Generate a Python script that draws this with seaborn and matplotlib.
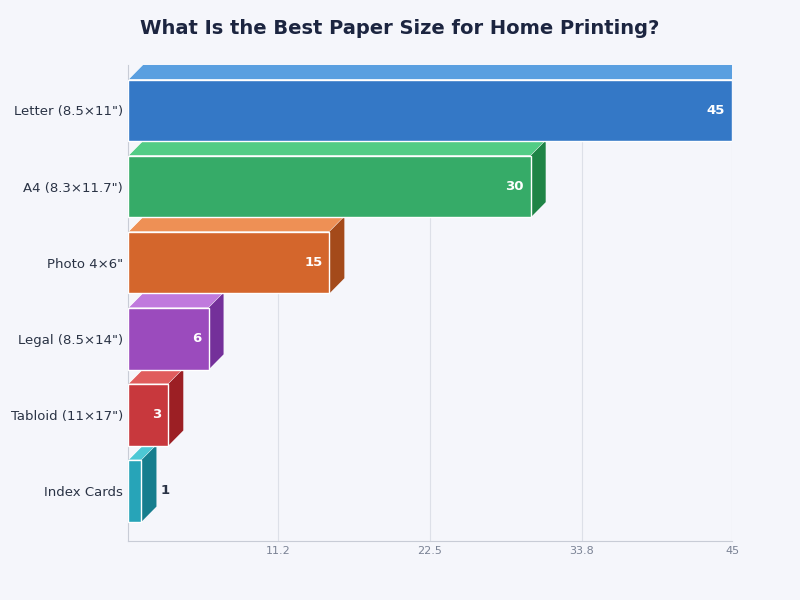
import matplotlib
matplotlib.use("Agg")
import matplotlib.pyplot as plt
from matplotlib.patches import Polygon
import seaborn as sns
import pandas as pd

categories = ['Letter (8.5×11")', 'A4 (8.3×11.7")', 'Photo 4×6"', 'Legal (8.5×14")', 'Tabloid (11×17")', 'Index Cards']
values = [45, 30, 15, 6, 3, 1]
front = ['#3478c6', '#36ab68', '#d4662c', '#9b4bbd', '#c8383d', '#27a4b8']
topc = ['#5a9fe0', '#52cc85', '#ee9055', '#c07add', '#e05c5c', '#4cc8d5']
side = ['#1f5a9e', '#1f8446', '#a44a1a', '#74309a', '#9c1f24', '#167e8e']

sns.set_style("white")
plt.rcParams['font.family'] = ['DejaVu Sans']
bg = '#f5f6fb'
fig = plt.figure(figsize=(8, 6), dpi=100, facecolor=bg)
ax = fig.add_axes([0.16, 0.098, 0.755, 0.794], facecolor=bg)

df = pd.DataFrame({"cat": categories, "val": values})
w = 0.81
sns.barplot(data=df, x="val", y="cat", hue="cat", palette=front, width=w, legend=False, ax=ax, saturation=1, zorder=3)
dx, dy = 1.12, 0.2
for i, v in enumerate(values):
    t = i - w / 2
    b = i + w / 2
    ax.add_patch(Polygon([(0, t), (dx, t - dy), (v + dx, t - dy), (v, t)], closed=True, fc=topc[i], ec='white', lw=0.6, zorder=2))
    ax.add_patch(Polygon([(v, t), (v + dx, t - dy), (v + dx, b - dy), (v, b)], closed=True, fc=side[i], ec='none', zorder=2))
    if v >= 3:
        ax.text(v - 0.5, i, str(v), ha='right', va='center', color='white', fontsize=9.5, fontweight='bold', zorder=4)
    else:
        ax.text(v + dx + 0.3, i, str(v), ha='left', va='center', color='#2a3345', fontsize=9.5, fontweight='bold', zorder=4)

ax.set_xlim(0, 45)
ax.set_ylim(5.66, -0.6)
ax.set_xticks([11.2, 22.5, 33.8, 45])
ax.set_xticklabels(['11.2', '22.5', '33.8', '45'], fontsize=8, color='#7a8294')
ax.tick_params(axis='y', labelsize=9.5, labelcolor='#2a3345', length=0)
ax.tick_params(axis='x', length=0)
ax.set_xlabel('')
ax.set_ylabel('')
ax.grid(axis='x', color='#dde0e8', lw=0.8, zorder=0)
for s in ['top', 'right']:
    ax.spines[s].set_visible(False)
for s in ['left', 'bottom']:
    ax.spines[s].set_color('#c8ccd6')
fig.text(0.5, 0.953, 'What Is the Best Paper Size for Home Printing?', ha='center', va='center', fontsize=14, fontweight='bold', color='#1c2540')
fig.savefig('out.png', dpi=100, facecolor=bg)
